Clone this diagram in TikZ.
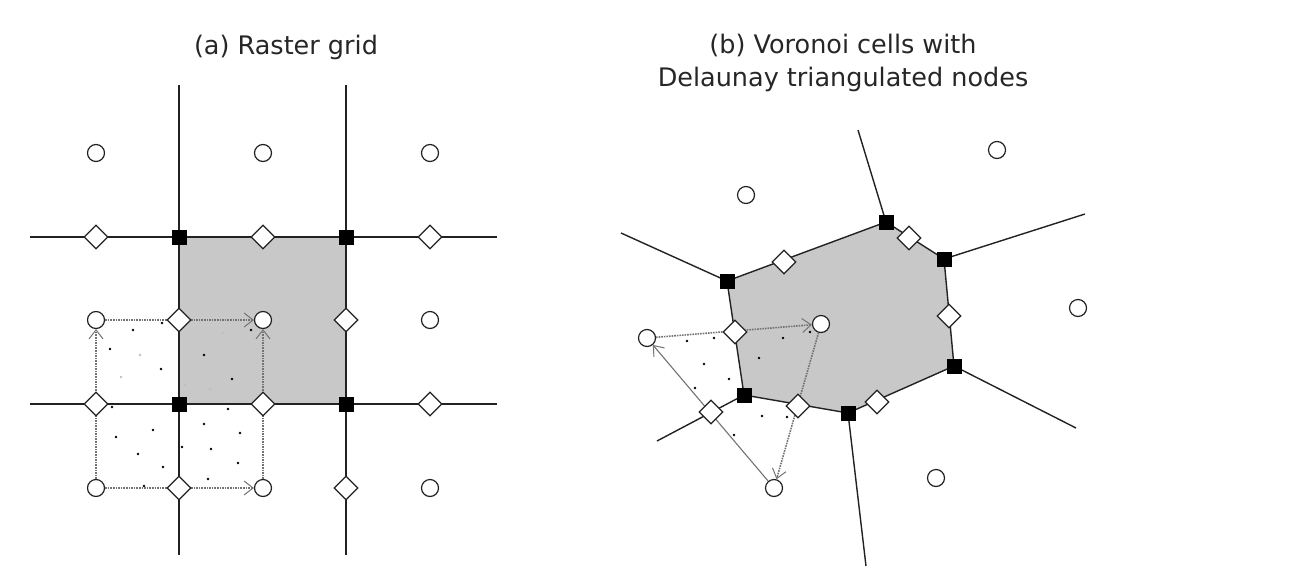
\documentclass[tikz,border=0pt]{standalone}
\usepackage{fontspec}
\setmainfont{DejaVu Sans}
\usetikzlibrary{shapes.geometric,arrows.meta}
\definecolor{cellgray}{HTML}{C8C8C8}
\definecolor{edgecol}{HTML}{222222}
\tikzset{
  site/.style={circle, draw=edgecol, fill=white, line width=1.2pt, minimum size=17pt, inner sep=0pt},
  face/.style={diamond, aspect=1, draw=edgecol, fill=white, line width=1.2pt, minimum size=24pt, inner sep=0pt},
  corner/.style={rectangle, fill=black, minimum size=15pt, inner sep=0pt},
  edge/.style={draw=edgecol, line width=1.4pt},
  flow/.style={draw=black!55, line width=1.6pt, densely dotted, -{Straight Barb[length=9pt,width=14pt,line width=1pt]}},
  flowsolid/.style={draw=black!55, line width=1.1pt, -{Straight Barb[length=9pt,width=14pt,line width=1pt]}},
  pt/.style={circle, fill=black, minimum size=2.8pt, inner sep=0pt},
  ptfaint/.style={circle, fill=black!25, minimum size=2.6pt, inner sep=0pt},
  title/.style={font=\fontsize{25.5}{33}\selectfont, text=black!85, align=center}
}
\begin{document}
\begin{tikzpicture}[x=1pt, y=-1pt]
\useasboundingbox (0,0) rectangle (1303,573);

% ---------------- (a) raster grid ----------------
\node[title] (ta) at (286,47) {(a) Raster grid};

\fill[cellgray] (179,237) rectangle (346,404);

\coordinate (v1t) at (179,85);  \coordinate (v1b) at (179,555);
\coordinate (v2t) at (346,85);  \coordinate (v2b) at (346,555);
\coordinate (h1l) at (30,237);  \coordinate (h1r) at (497,237);
\coordinate (h2l) at (30,404);  \coordinate (h2r) at (497,404);
\draw[edge] (v1t) -- (v1b);
\draw[edge] (v2t) -- (v2b);
\draw[edge] (h1l) -- (h1r);
\draw[edge] (h2l) -- (h2r);

% sample points scattered over the cells
\foreach \x/\y in {162/323,133/330,110/349,161/369,204/355,232/379,251/330,
                   112/407,228/409,204/424,240/433,153/430,116/437,182/447,
                   211/449,138/454,163/467,238/463,208/479,144/486}
  \node[pt] at (\x,\y) {};
\foreach \x/\y in {140/355,121/377,185/385,210/389,223/333}
  \node[ptfaint] at (\x,\y) {};

% cell centres
\node[site] (c11) at (96,153) {};
\node[site] (c12) at (263,153) {};
\node[site] (c13) at (430,153) {};
\node[site] (c21) at (96,320) {};
\node[site] (c22) at (263,320) {};
\node[site] (c23) at (430,320) {};
\node[site] (c31) at (96,488) {};
\node[site] (c32) at (263,488) {};
\node[site] (c33) at (430,488) {};

% flow paths between centres
\draw[flow] (c31) -- (c21);
\draw[flow] (c21) -- (c22);
\draw[flow] (c31) -- (c32);
\draw[flow] (c32) -- (c22);

% face midpoints
\node[face] (fa1) at (96,237) {};
\node[face] (fa2) at (263,237) {};
\node[face] (fa3) at (430,237) {};
\node[face] (fa4) at (179,320) {};
\node[face] (fa5) at (346,320) {};
\node[face] (fa6) at (96,404) {};
\node[face] (fa7) at (263,404) {};
\node[face] (fa8) at (430,404) {};
\node[face] (fa9) at (179,488) {};
\node[face] (fa10) at (346,488) {};

% grid corners
\node[corner] (ka1) at (179,237) {};
\node[corner] (ka2) at (346,237) {};
\node[corner] (ka3) at (179,404) {};
\node[corner] (ka4) at (346,404) {};

% ---------------- (b) Voronoi cells ----------------
\node[title] (tb) at (843,63) {(b) Voronoi cells with\\Delaunay triangulated nodes};

\coordinate (p1) at (727,281);
\coordinate (p2) at (886,222);
\coordinate (p3) at (944,259);
\coordinate (p4) at (954,366);
\coordinate (p5) at (848,413);
\coordinate (p6) at (744,395);
\fill[cellgray] (p1) -- (p2) -- (p3) -- (p4) -- (p5) -- (p6) -- cycle;
\draw[edge] (p1) -- (p2) -- (p3) -- (p4) -- (p5) -- (p6) -- cycle;

\coordinate (e1) at (621,233);
\coordinate (e2) at (858,130);
\coordinate (e3) at (1085,214);
\coordinate (e4) at (1076,428);
\coordinate (e5) at (866,566);
\coordinate (e6) at (657,441);
\draw[edge] (p1) -- (e1);
\draw[edge] (p2) -- (e2);
\draw[edge] (p3) -- (e3);
\draw[edge] (p4) -- (e4);
\draw[edge] (p5) -- (e5);
\draw[edge] (p6) -- (e6);

\foreach \x/\y in {687/341,714/338,704/364,729/379,695/388,783/338,759/358,
                   810/332,762/416,787/417,734/435}
  \node[pt] at (\x,\y) {};

% Voronoi sites
\node[site] (s1) at (746,195) {};
\node[site] (s2) at (997,150) {};
\node[site] (s3) at (1078,308) {};
\node[site] (s4) at (936,478) {};
\node[site] (s5) at (821,324) {};
\node[site] (s6) at (647,338) {};
\node[site] (s7) at (774,488) {};

% Delaunay triangle with flow directions
\draw[flow] (s6) -- (s5);
\draw[flow] (s5) -- (s7);
\draw[flowsolid] (s7) -- (s6);

% face midpoints
\node[face] (fb1) at (784,262) {};
\node[face] (fb2) at (909,238) {};
\node[face] (fb3) at (949,316) {};
\node[face] (fb4) at (735,332) {};
\node[face] (fb5) at (798,406) {};
\node[face] (fb6) at (877,402) {};
\node[face] (fb7) at (711,412) {};

% cell vertices
\node[corner] (kb1) at (p1) {};
\node[corner] (kb2) at (p2) {};
\node[corner] (kb3) at (p3) {};
\node[corner] (kb4) at (p4) {};
\node[corner] (kb5) at (p5) {};
\node[corner] (kb6) at (p6) {};
\end{tikzpicture}
\end{document}
